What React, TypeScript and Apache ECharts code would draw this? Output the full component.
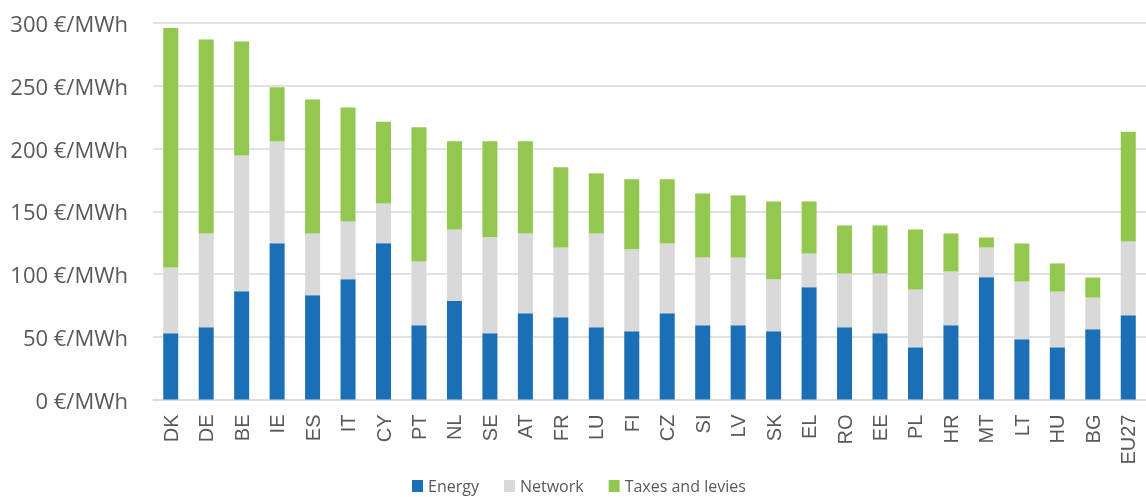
import React, { useEffect, useRef } from "react";
import * as echarts from "echarts";

const categories = ["DK","DE","BE","IE","ES","IT","CY","PT","NL","SE","AT","FR","LU","FI","CZ","SI","LV","SK","EL","RO","EE","PL","HR","MT","LT","HU","BG","EU27"];
const energy = [52.8,57.6,86.3,124.6,83.1,95.9,124.6,59.2,78.4,52.8,68.8,65.6,57.6,54.4,68.8,59.2,59.2,54.4,89.5,57.6,52.8,41.6,59.2,97.5,48.0,41.6,56.0,67.2];
const network = [52.4,74.7,108.2,81.1,49.2,46.0,31.6,50.8,57.1,76.6,63.5,55.5,74.7,65.4,55.5,53.9,53.9,41.5,26.8,42.8,47.6,46.0,42.8,23.6,46.0,44.4,25.2,58.7];
const taxes = [190.8,154.5,90.7,43.1,106.7,90.7,65.2,106.9,70.2,76.3,73.4,63.9,47.9,55.6,51.1,51.1,49.5,61.9,41.5,38.3,38.3,47.9,30.3,8.0,30.3,22.4,16.0,87.5];
const yTicks = [0, 50, 100, 150, 200, 250, 300];

export default function App() {
  const ref = useRef<HTMLDivElement>(null);
  useEffect(() => {
    if (!ref.current) return;
    const chart = echarts.init(ref.current, null, { renderer: "svg" });
    const font = "'Liberation Sans', Arial, sans-serif";
    const font2 = "'Open Sans', sans-serif";
    const mk = (name: string, data: number[], color: string) => ({
      name,
      type: "bar",
      stack: "total",
      data,
      barWidth: 15,
      itemStyle: { color },
    });
    chart.setOption({
      animation: false,
      textStyle: { fontFamily: font },
      grid: { left: 153, right: -8, top: 23, bottom: 97.5, containLabel: false },
      legend: {
        top: 477,
        left: 412,
        padding: 0,
        itemWidth: 11,
        itemHeight: 12,
        itemGap: 25,
        icon: "rect",
        textStyle: { fontSize: 16, color: "#595959", fontFamily: font2, lineHeight: 18 },
        data: ["Energy", "Network", "Taxes and levies"],
      },
      xAxis: {
        type: "category",
        data: categories,
        axisLine: { lineStyle: { color: "#d9d9d9", width: 1.5 } },
        axisTick: { show: false },
        axisLabel: { rotate: 90, fontSize: 20, color: "#595959", margin: 15, interval: 0, fontFamily: font },
      },
      yAxis: {
        type: "value",
        min: yTicks[0],
        max: yTicks[yTicks.length - 1],
        interval: 50,
        axisLine: { show: false },
        axisTick: { show: false },
        splitLine: { lineStyle: { color: "#d9d9d9", width: 1.5 } },
        axisLabel: { fontSize: 22, color: "#595959", margin: 25, formatter: (v: number) => `${v} €/MWh`, fontFamily: font2 },
      },
      series: [
        mk("Energy", energy, "#1a6fb7"),
        mk("Network", network, "#d9d9d9"),
        mk("Taxes and levies", taxes, "#92c850"),
      ],
    });
    return () => chart.dispose();
  }, []);
  return <div ref={ref} style={{ position: "fixed", left: 0, top: 0, width: 1146, height: 497 }} />;
}
